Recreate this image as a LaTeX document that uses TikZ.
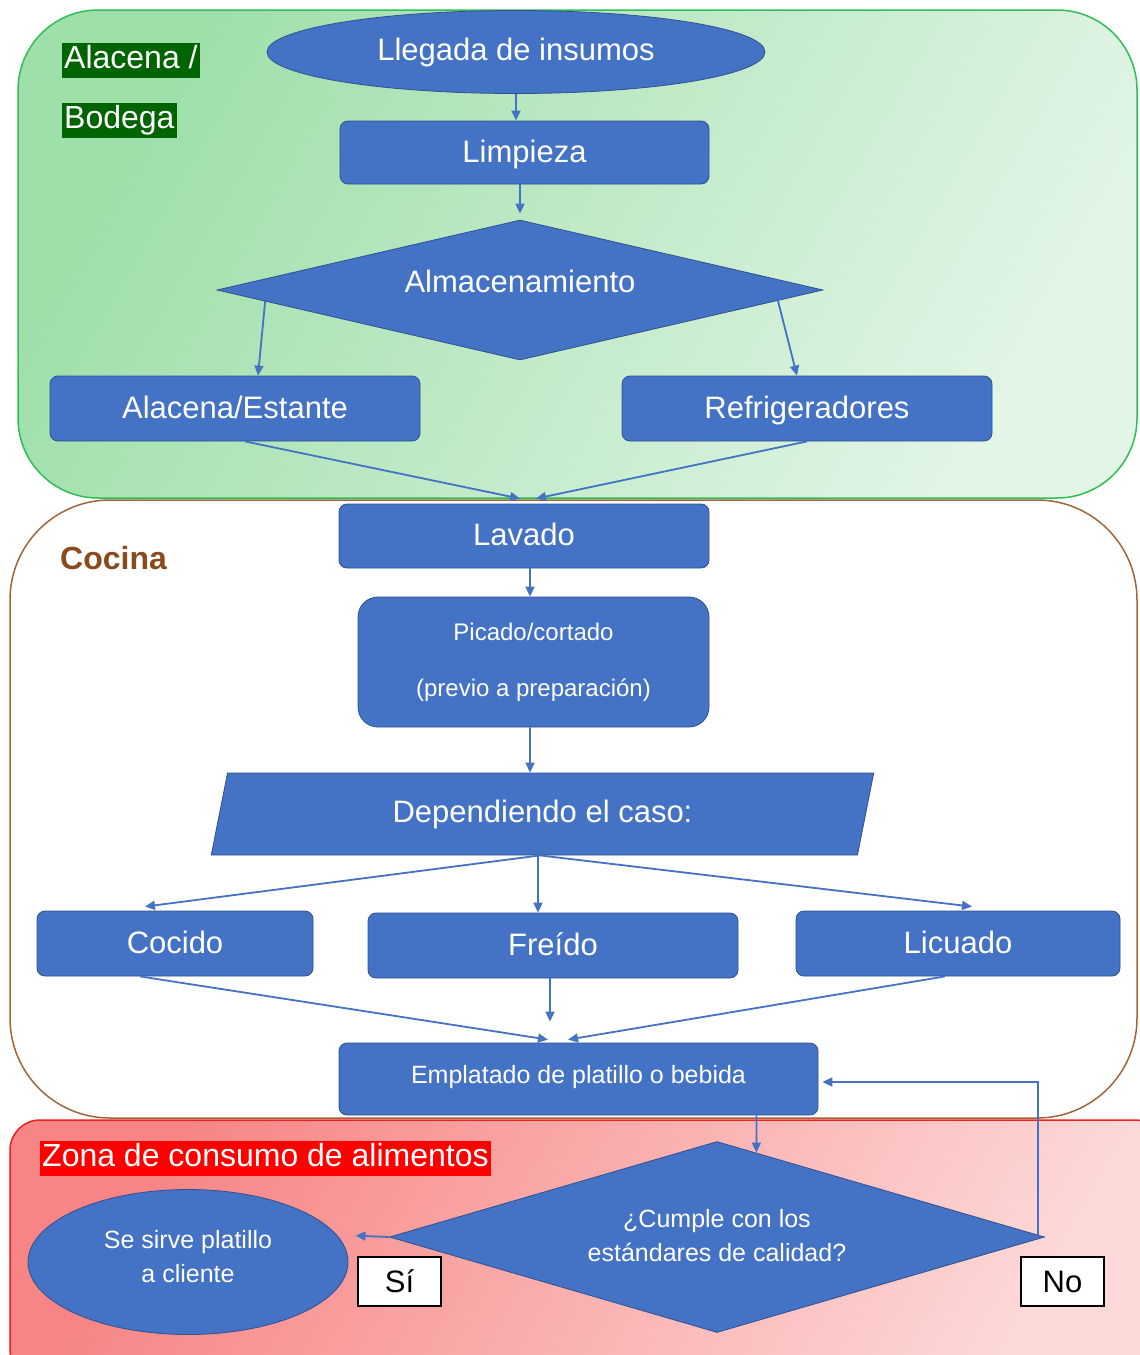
\documentclass[tikz,border=0pt]{standalone}
\usepackage{fontspec}
\setmainfont{Liberation Sans}
\usetikzlibrary{shapes.geometric,arrows.meta,calc}
\definecolor{nblue}{HTML}{4472C4}
\definecolor{nborder}{HTML}{2F528F}
\definecolor{gA}{HTML}{9EDFAA}
\definecolor{gB}{HTML}{E2F5E6}
\definecolor{gline}{HTML}{2EBE55}
\definecolor{brownline}{HTML}{A0663A}
\definecolor{cocinatext}{HTML}{8B4A1C}
\definecolor{rA}{HTML}{F78585}
\definecolor{rB}{HTML}{FDD8D8}
\definecolor{rline}{HTML}{F02020}
\definecolor{dgreen}{HTML}{006400}
\newcommand{\bigtxt}{\fontsize{31}{37}\selectfont}
\newcommand{\midtxt}{\fontsize{25}{34}\selectfont}
\begin{document}
\begin{tikzpicture}[x=1pt,y=-1pt,
  shapefill/.style={fill=nblue, draw=nborder, line width=0.8pt, text=white, inner sep=0pt},
  bluebox/.style={shapefill, rounded corners=8pt, font=\bigtxt, text height=26pt, text depth=7pt},
  flow/.style={draw=nblue, line width=1.8pt, -{Triangle[length=10pt,width=9pt]}},
  zonelabel/.style={anchor=west, text=white, inner sep=2pt, text height=24pt, text depth=7pt, font=\fontsize{32}{37}\selectfont},
  answer/.style={fill=white, draw=black, line width=1.5pt, minimum width=83pt, minimum height=49pt, inner sep=0pt, font=\bigtxt}
]
\useasboundingbox (0,0) rectangle (1140,1355);
\clip (0,0) rectangle (1140,1355);
% zones
\path[draw=gline, line width=1.5pt, top color=gA, bottom color=gB, shading angle=60, rounded corners=80pt]
  (18,10) rectangle (1137,498);
\path[draw=brownline, line width=1.5pt, fill=white, rounded corners=100pt]
  (10,500) rectangle (1137,1118);
\path[draw=rline, line width=1.5pt, top color=rA, bottom color=rB, shading angle=60, rounded corners=30pt]
  (10,1120) rectangle (1165,1380);

% zone labels
\node[zonelabel, fill=dgreen] (labA) at (62,60) {Alacena /};
\node[zonelabel, fill=dgreen] (labB) at (62,120) {Bodega};
\node[anchor=west, text=cocinatext, font=\fontsize{32}{37}\selectfont\bfseries, inner sep=0pt] (labC) at (60,558) {Cocina};
\node[zonelabel, fill=red] (labZ) at (40,1158) {Zona de consumo de alimentos};

% nodes
\node[ellipse, shapefill, font=\bigtxt, minimum width=498pt, minimum height=83pt] (lleg) at (516,52) {\raisebox{5pt}{Llegada de insumos}};
\node[bluebox, minimum width=369pt, minimum height=63pt] (limp) at (524.5,152.5) {Limpieza};
\node[diamond, shapefill, font=\bigtxt, aspect=4.3, minimum width=606pt, minimum height=140pt] (alm) at (520,290) {\raisebox{17pt}{Almacenamiento}};
\node[bluebox, minimum width=370pt, minimum height=65pt] (ale) at (235,408.5) {Alacena/Estante};
\node[bluebox, minimum width=370pt, minimum height=65pt] (ref) at (807,408.5) {Refrigeradores};
\node[bluebox, minimum width=370pt, minimum height=64pt] (lav) at (524,536) {Lavado};
\node[shapefill, rounded corners=20pt, minimum width=351pt, minimum height=130pt, align=center, font=\fontsize{24}{52}\selectfont] (pic) at (533.5,662) {\raisebox{6pt}{Picado/cortado}\\\raisebox{2pt}{(previo a preparación)}};
\node[trapezium, trapezium left angle=75, trapezium right angle=105, trapezium stretches=true, shapefill, font=\bigtxt, minimum width=665pt, minimum height=82pt] (dep) at (542.5,814) {\raisebox{4pt}{Dependiendo el caso:}};
\node[bluebox, minimum width=276pt, minimum height=65pt] (coc) at (175,943.5) {Cocido};
\node[bluebox, minimum width=370pt, minimum height=65pt] (fre) at (553,945.5) {Freído};
\node[bluebox, minimum width=324pt, minimum height=65pt] (lic) at (958,943.5) {Licuado};
\node[shapefill, rounded corners=8pt, minimum width=479pt, minimum height=72pt, font=\fontsize{25}{30}\selectfont] (emp) at (578.5,1079) {\raisebox{10pt}{Emplatado de platillo o bebida}};
\node[diamond, shapefill, aspect=3.4, minimum width=655pt, minimum height=191pt, align=center, font=\midtxt] (cum) at (717,1237) {\raisebox{3pt}{¿Cumple con los}\\\raisebox{3pt}{estándares de calidad?}};
\node[ellipse, shapefill, minimum width=320pt, minimum height=145pt, align=center, font=\midtxt] (ses) at (188,1262) {\raisebox{12pt}{Se sirve platillo}\\\raisebox{12pt}{a cliente}};
\node[answer] (si) at (399.5,1281.5) {Sí};
\node[answer] (no) at (1062.5,1281.5) {No};

% connectors
\draw[flow] (lleg.south) -- (lleg.south |- limp.north);
\draw[flow] (alm.north |- limp.south) -- ([yshift=6pt]alm.north);
\draw[flow] ($(alm.west)!0.16!(alm.south)$) -- ([xshift=23pt]ale.north);
\draw[flow] ($(alm.east)!0.15!(alm.south)$) -- ([xshift=-10pt]ref.north);
\draw[flow] ([xshift=10pt]ale.south) -- ([xshift=-4pt,yshift=5pt]lav.north);
\draw[flow] (ref.south) -- ([xshift=12pt,yshift=5pt]lav.north);
\draw[flow] ([xshift=6pt]lav.south) -- ([xshift=-3.5pt]pic.north);
\draw[flow] ([xshift=-3.5pt]pic.south) -- ([xshift=-12.5pt]dep.north);
\draw[flow] ([xshift=-2.5pt]dep.south) -- ([xshift=-30pt,yshift=4pt]coc.north);
\draw[flow] ([xshift=-4.5pt]dep.south) -- ([xshift=-15pt]fre.north);
\draw[flow] ([xshift=-2.5pt]dep.south) -- ([xshift=14pt,yshift=4pt]lic.north);
\draw[flow] ([xshift=-35pt]coc.south) -- ([xshift=-30.5pt,yshift=3pt]emp.north);
\draw[flow] ([xshift=-3pt]fre.south) -- ([xshift=-28.5pt,yshift=21pt]emp.north);
\draw[flow] ([xshift=-13pt]lic.south) -- ([xshift=-10.5pt,yshift=3pt]emp.north);
\draw[flow] ([xshift=178pt]emp.south) -- ($(cum.north)!0.12!(cum.east)$);
\draw[flow] ([xshift=-7pt]cum.east) |- ([xshift=4pt,yshift=-3pt]emp.east);
\draw[flow] (cum.west) -- ([xshift=18pt]ses.10);
\end{tikzpicture}
\end{document}
